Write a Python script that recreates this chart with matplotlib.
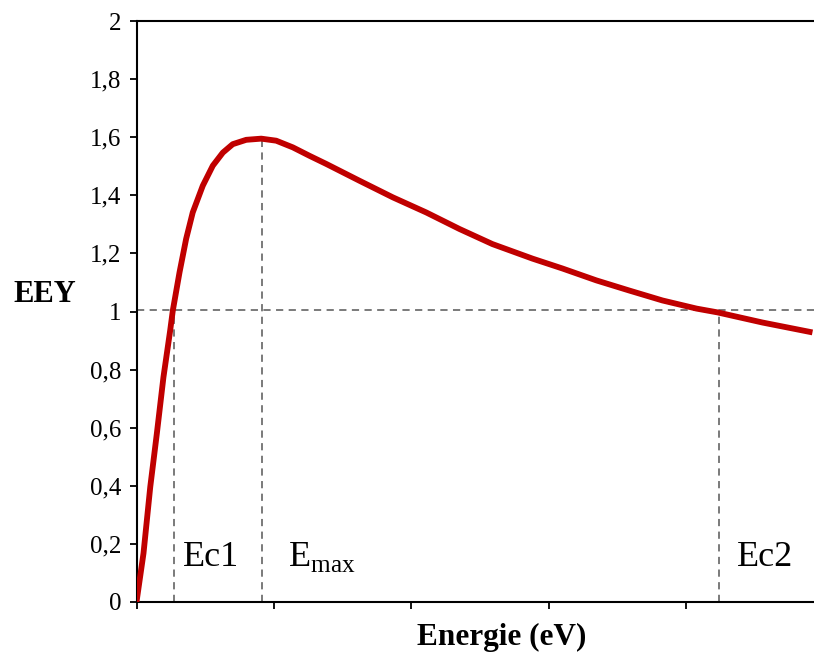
import matplotlib
matplotlib.use("Agg")
import matplotlib.pyplot as plt

# Data
energy = [0, 5.1, 10.0, 14.8, 19.6, 24.5, 26.4, 31.3, 36.1, 40.9, 48.2, 55.5, 62.8,
          70.0, 79.8, 90.7, 101.6, 113.7, 125.8, 138.0, 162.2, 186.4, 210.7, 234.9,
          258.9, 288.0, 309.8, 334.5, 358.5, 382.5, 407.3, 422.5, 455.3, 491.6]
eey = [0, 0.168, 0.396, 0.58, 0.774, 0.935, 1.003, 1.135, 1.25, 1.341, 1.433, 1.502,
       1.547, 1.576, 1.591, 1.595, 1.588, 1.565, 1.536, 1.508, 1.45, 1.393, 1.341,
       1.284, 1.232, 1.182, 1.148, 1.107, 1.072, 1.038, 1.010, 0.997, 0.962, 0.928]
ec1, emax, ec2 = 27.6, 91.6, 423.3
eey_max = 1.598
eey_one = 1.005
yticks = [0, 0.2, 0.4, 0.6, 0.8, 1.0, 1.2, 1.4, 1.6, 1.8, 2.0]
ytick_labels = ["0", "0,2", "0,4", "0,6", "0,8", "1", "1,2", "1,4", "1,6", "1,8", "2"]
xticks = [0, 100, 200, 300, 400]

plt.rcParams['font.family'] = ['Liberation Serif', 'DejaVu Serif']

fig = plt.figure(figsize=(8.14, 6.57), dpi=100)
ax = fig.add_axes([136.5/814, 1-602/657, 1-136.5/814, (602-21)/657])
xmax = (814-136.5)/1.375
ax.set_xlim(0, xmax)
ax.set_ylim(0, 2)

gray = "#707070"
dash = (0, (4, 3))
ax.axhline(eey_one, color=gray, ls=dash, lw=1.3, zorder=1)
ax.plot([ec1, ec1], [0, eey_one], color=gray, ls=dash, lw=1.3, zorder=1)
ax.plot([emax, emax], [0, eey_max], color=gray, ls=dash, lw=1.3, zorder=1)
ax.plot([ec2, ec2], [0, eey_one], color=gray, ls=dash, lw=1.3, zorder=1)

ax.plot(energy, eey, color="#C00000", lw=4.2, solid_capstyle='butt',
        solid_joinstyle='round', zorder=3)

ax.spines['right'].set_visible(False)
for s in ['top', 'left', 'bottom']:
    ax.spines[s].set_linewidth(1.5)

ax.set_yticks(yticks)
ax.set_yticklabels(ytick_labels, fontsize=18)
ax.set_xticks(xticks)
ax.set_xticklabels([])
ax.tick_params(axis='both', direction='out', length=5, width=1.3)
ax.tick_params(axis='y', pad=6)

ybase = 0.125
ax.text(ec1 + 6.1, ybase, "Ec1", fontsize=26, va='baseline', ha='left')
ax.text(emax + 18.4, ybase, r"E$_{\mathregular{max}}$", fontsize=26, va='baseline', ha='left')
ax.text(ec2 + 13.1, ybase, "Ec2", fontsize=26, va='baseline', ha='left')

fig.text(45/814, 1-295/657, "EEY", fontsize=22, fontweight='bold', ha='center', va='center')
fig.text(502/814, 1-637/657, "Energie (eV)", fontsize=22.5, fontweight='bold', ha='center', va='center')

fig.savefig("out.png", dpi=100)
